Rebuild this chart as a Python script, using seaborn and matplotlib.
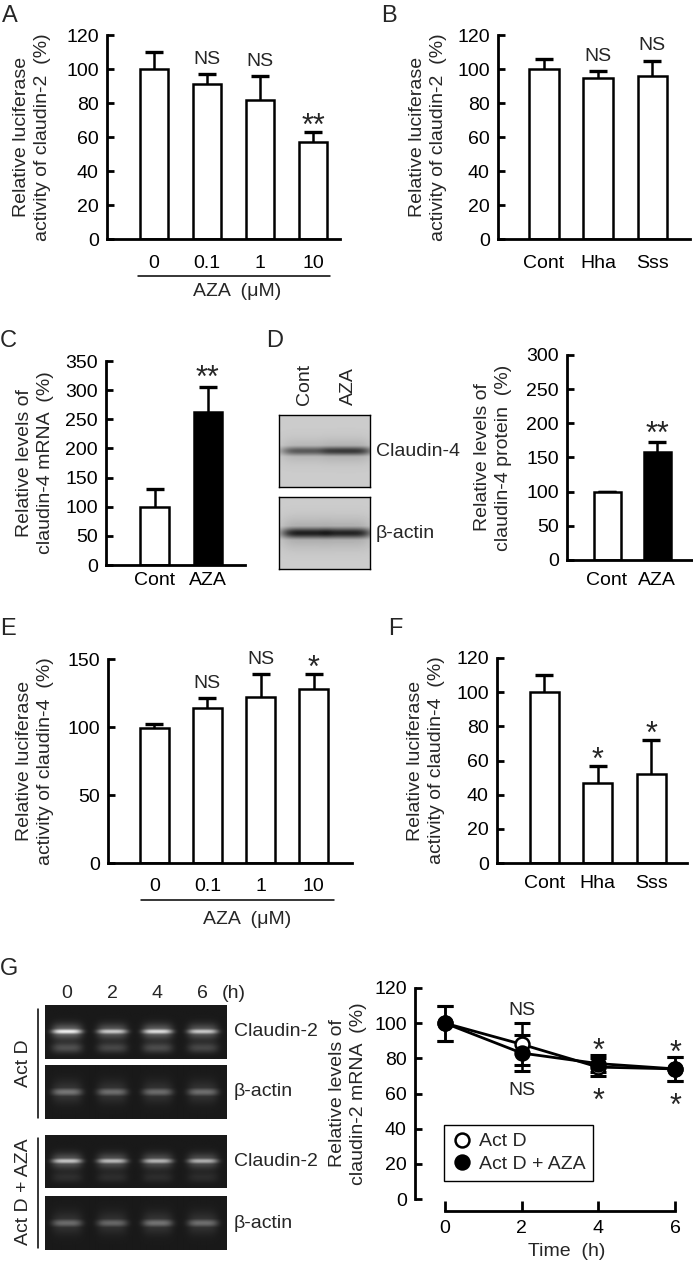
import matplotlib
matplotlib.use("Agg")
import matplotlib.pyplot as plt
from matplotlib.lines import Line2D
import numpy as np
import pandas as pd
import seaborn as sns

W, H = 693, 1264

# A: claudin-2 promoter activity vs AZA dose
aza_doses = ["0", "0.1", "1", "10"]
cld2_luc_aza = [100, 91, 82, 57]
cld2_luc_aza_sd = [10, 6, 14, 6]
cld2_luc_aza_sig = ["", "NS", "NS", "**"]

# B: claudin-2 promoter activity, methylases
mtase = ["Cont", "Hha", "Sss"]
cld2_luc_mtase = [100, 95, 96]
cld2_luc_mtase_sd = [6, 4, 9]
cld2_luc_mtase_sig = ["", "NS", "NS"]

# C: claudin-4 mRNA
treat = ["Cont", "AZA"]
cld4_mrna = [100, 262]
cld4_mrna_sd = [30, 44]
cld4_mrna_sig = ["", "**"]

# D: claudin-4 protein + blot band darkness
cld4_protein = [100, 158]
cld4_protein_sd = [0, 15]
cld4_protein_sig = ["", "**"]
blot_claudin4 = [0.45, 0.58]
blot_actin = [0.68, 0.66]

# E: claudin-4 promoter activity vs AZA dose
cld4_luc_aza = [99, 114, 122, 128]
cld4_luc_aza_sd = [3, 7, 17, 11]
cld4_luc_aza_sig = ["", "NS", "NS", "*"]

# F: claudin-4 promoter activity, methylases
cld4_luc_mtase = [100, 47, 52]
cld4_luc_mtase_sd = [10, 10, 20]
cld4_luc_mtase_sig = ["", "*", "*"]

# G: claudin-2 mRNA decay after Act D
time_h = [0, 2, 4, 6]
actd = [100, 88, 75, 74]
actd_sd = [10, 12, 5, 7]
actd_aza = [100, 83, 77, 74]
actd_aza_sd = [10, 10, 5, 7]
actd_sig = ["", "NS", "*", "*"]
actd_aza_sig = ["", "NS", "*", "*"]
gel_lanes = ["0", "2", "4", "6"]
gel_cld2_actd = [0.85, 0.7, 0.78, 0.7]
gel_actin_actd = [0.36, 0.33, 0.32, 0.33]
gel_cld2_aza = [0.68, 0.64, 0.62, 0.6]
gel_actin_aza = [0.32, 0.3, 0.35, 0.33]

sns.set_theme(style="ticks")
plt.rcParams["font.family"] = ["Liberation Sans", "DejaVu Sans"]
plt.rcParams["axes.linewidth"] = 2.0

FS = 14
STAR_FS = 22


def px_axes(fig, left, top, right, bottom):
    return fig.add_axes([left / W, 1 - bottom / H, (right - left) / W, (bottom - top) / H])


def fig_text(fig, x, y, s, **kw):
    kw.setdefault("fontsize", FS)
    fig.text(x / W, 1 - y / H, s, **kw)


def sig_text(ax, x, y, s, above=True, gap_px=10):
    if not s:
        return
    fs = FS if s == "NS" else STAR_FS
    em_px = fs * 100 / 72
    if above:
        base = 0.0 if s == "NS" else 0.42
        off = (gap_px - base * em_px) * 0.72
        ax.annotate(s, (x, y), xytext=(0, off), textcoords="offset points",
                    ha="center", va="baseline", fontsize=fs)
    else:
        ax.annotate(s, (x, y), xytext=(0, -gap_px * 0.72), textcoords="offset points",
                    ha="center", va="top", fontsize=fs)


def style_axes(ax, ylabel, label_x, xpad, ylim, ystep):
    sns.despine(ax=ax)
    ax.set_ylim(*ylim)
    ax.set_yticks(np.arange(ylim[0], ylim[1] + 1, ystep))
    ax.tick_params(axis="y", direction="in", length=5, width=2, pad=6, labelsize=FS, colors="black")
    ax.tick_params(axis="x", length=0, pad=xpad, labelsize=FS, colors="black")
    ax.set_xlabel("")
    ax.set_ylabel(ylabel, fontsize=FS, linespacing=1.25, multialignment="center")
    ax.yaxis.label.set_va("center")
    ax.yaxis.set_label_coords(label_x, 0.5)
    for sp in ax.spines.values():
        sp.set_color("black")
        sp.set_linewidth(2)


def bar_panel(fig, rect, cats, vals, sds, sigs, xlim, ylim, ystep, ylabel, label_px,
              xpad, colors=None, gap_px=10):
    ax = px_axes(fig, *rect)
    df = pd.DataFrame({"cat": cats, "val": vals})
    palette = colors if colors else ["white"] * len(cats)
    sns.barplot(data=df, x="cat", y="val", hue="cat", palette=palette, legend=False,
                saturation=1, edgecolor="black", linewidth=1.8, width=0.54,
                errorbar=None, ax=ax, zorder=2)
    ax.errorbar(range(len(cats)), vals, yerr=sds, fmt="none", ecolor="black",
                elinewidth=1.8, capsize=6.5, capthick=2.4, zorder=1)
    ax.set_xlim(*xlim)
    style_axes(ax, ylabel, (label_px - rect[0]) / (rect[2] - rect[0]), xpad, ylim, ystep)
    for i, (v, e, s) in enumerate(zip(vals, sds, sigs)):
        sig_text(ax, i, v + e, s, True, gap_px)
    return ax


def gel_image(w, h, lane_x, band_y, inten, bg, dark=False, band_w=13, sig=2.6, glow=0.0,
              second=0.0):
    xx, yy = np.meshgrid(np.arange(w) + 0.5, np.arange(h) + 0.5)
    img = np.full((h, w), bg, dtype=float)
    for cx, a in zip(lane_x, inten):
        prof_x = np.exp(-((xx - cx) / band_w) ** 4)
        core = np.exp(-((yy - band_y) / sig) ** 2)
        halo = glow * np.exp(-((yy - band_y) / (sig * 2.6)) ** 2)
        low = second * np.exp(-((yy - band_y - 16) / 5.0) ** 2)
        band = a * prof_x * np.maximum(core, halo) + a * prof_x * low
        if dark:
            img = img - band
        else:
            img = img + band
    return np.clip(img, 0, 1)


fig = plt.figure(figsize=(W / 100, H / 100), dpi=100)
fig.patch.set_facecolor("white")

# ---------- A ----------
bar_panel(fig, (107, 35, 340, 239), aza_doses, cld2_luc_aza, cld2_luc_aza_sd,
          cld2_luc_aza_sig, (-0.89, 3.51), (0, 120), 20,
          "Relative luciferase\nactivity of claudin-2  (%)", 32, 11.5)
fig.add_artist(Line2D([138 / W, 330 / W], [1 - 276 / H] * 2, color="black", lw=1.1))
fig_text(fig, 237, 292, "AZA  (μM)", ha="center", va="center")
fig_text(fig, 2, 5, "A", fontsize=17, ha="left", va="top")

# ---------- B ----------
bar_panel(fig, (498, 35, 690, 239), mtase, cld2_luc_mtase, cld2_luc_mtase_sd,
          cld2_luc_mtase_sig, (-0.85, 2.70), (0, 120), 20,
          "Relative luciferase\nactivity of claudin-2  (%)", 428, 11.5)
fig_text(fig, 381, 5, "B", fontsize=17, ha="left", va="top")

# ---------- C ----------
bar_panel(fig, (106, 361, 245, 565), treat, cld4_mrna, cld4_mrna_sd, cld4_mrna_sig,
          (-0.92, 1.70), (0, 350), 50, "Relative levels of\nclaudin-4 mRNA  (%)", 35, 5,
          colors=["white", "black"], gap_px=13)
fig_text(fig, 0, 330, "C", fontsize=17, ha="left", va="top")

# ---------- D ----------
fig_text(fig, 266, 330, "D", fontsize=17, ha="left", va="top")
blot_lanes = [26, 69]
for (top, bot, dens, label) in [(415, 487, blot_claudin4, "Claudin-4"),
                                (497, 569, blot_actin, "β-actin")]:
    axb = px_axes(fig, 279, top, 370, bot)
    h = bot - top
    img = gel_image(91, h, blot_lanes, h / 2, dens, 0.8, dark=True, band_w=24,
                    sig=4.5 if label == "Claudin-4" else 5.5, glow=0.22)
    axb.imshow(img, cmap="gray", vmin=0, vmax=1, aspect="auto", extent=(0, 91, h, 0),
               interpolation="bilinear")
    axb.set_xticks([])
    axb.set_yticks([])
    for sp in axb.spines.values():
        sp.set_linewidth(1.0)
        sp.set_color("black")
    fig_text(fig, 376, (top + bot) / 2, label, ha="left", va="center")
for lx, name in zip([305, 348], treat):
    fig_text(fig, lx, 405, name, rotation=90, ha="center", va="bottom")

bar_panel(fig, (567, 355, 692, 560), treat, cld4_protein, cld4_protein_sd, cld4_protein_sig,
          (-0.8, 1.7), (0, 300), 50, "Relative levels of\nclaudin-4 protein  (%)", 493, 8.5,
          colors=["white", "black"], gap_px=12)

# ---------- E ----------
bar_panel(fig, (108, 659, 352, 863), aza_doses, cld4_luc_aza, cld4_luc_aza_sd,
          cld4_luc_aza_sig, (-0.87, 3.72), (0, 150), 50,
          "Relative luciferase\nactivity of claudin-4  (%)", 35, 11)
fig.add_artist(Line2D([141 / W, 334 / W], [1 - 900 / H] * 2, color="black", lw=1.1))
fig_text(fig, 247, 920, "AZA  (μM)", ha="center", va="center")
fig_text(fig, 0, 618, "E", fontsize=17, ha="left", va="top")

# ---------- F ----------
bar_panel(fig, (497, 658, 687, 863), mtase, cld4_luc_mtase, cld4_luc_mtase_sd,
          cld4_luc_mtase_sig, (-0.88, 2.67), (0, 120), 20,
          "Relative luciferase\nactivity of claudin-4  (%)", 426, 8.5)
fig_text(fig, 388, 618, "F", fontsize=17, ha="left", va="top")

# ---------- G gels ----------
fig_text(fig, 0, 958, "G", fontsize=17, ha="left", va="top")
gel_lane_px = [22, 67, 112, 157]
gel_boxes = [(1005, 1059, gel_cld2_actd, "Claudin-2", 0.25),
             (1065, 1119, gel_actin_actd, "β-actin", 0.0),
             (1135, 1188, gel_cld2_aza, "Claudin-2", 0.12),
             (1196, 1250, gel_actin_aza, "β-actin", 0.0)]
for top, bot, inten, label, second in gel_boxes:
    axg = px_axes(fig, 45, top, 226, bot)
    h = bot - top
    if label == "Claudin-2":
        img = gel_image(181, h, gel_lane_px, h / 2, inten, 0.1, band_w=15, sig=2.8,
                        glow=0.4, second=second)
    else:
        img = gel_image(181, h, gel_lane_px, h / 2, inten, 0.1, band_w=15, sig=4.2,
                        glow=0.35)
    axg.imshow(img, cmap="gray", vmin=0, vmax=1, aspect="auto", extent=(0, 181, h, 0),
               interpolation="bilinear")
    axg.set_xticks([])
    axg.set_yticks([])
    for sp in axg.spines.values():
        sp.set_visible(False)
    fig_text(fig, 234, (top + bot) / 2, label, ha="left", va="center")
for lx, lane in zip(gel_lane_px, gel_lanes):
    fig_text(fig, 45 + lx, 993, lane, ha="center", va="center")
fig_text(fig, 222, 993, "(h)", ha="left", va="center")
fig.add_artist(Line2D([38 / W] * 2, [1 - 1009 / H, 1 - 1118 / H], color="black", lw=1.1))
fig.add_artist(Line2D([38 / W] * 2, [1 - 1138 / H, 1 - 1248 / H], color="black", lw=1.1))
fig_text(fig, 24, 1063, "Act D", rotation=90, ha="center", va="center")
fig_text(fig, 24, 1192, "Act D + AZA", rotation=90, ha="center", va="center")

# ---------- G chart ----------
axG = px_axes(fig, 415, 988, 690, 1199)
axG.errorbar(time_h, actd, yerr=actd_sd, fmt="none", ecolor="black", elinewidth=1.8,
             capsize=6, capthick=2.2, zorder=1)
axG.errorbar(time_h, actd_aza, yerr=actd_aza_sd, fmt="none", ecolor="black", elinewidth=1.8,
             capsize=6, capthick=2.2, zorder=1)
sns.lineplot(x=time_h, y=actd, ax=axG, color="black", lw=2, marker="o", markersize=10,
             markerfacecolor="white", markeredgecolor="black", markeredgewidth=1.8, zorder=3)
sns.lineplot(x=time_h, y=actd_aza, ax=axG, color="black", lw=2, marker="o", markersize=10,
             markerfacecolor="black", markeredgecolor="black", markeredgewidth=1.8, zorder=4)
axG.set_xlim(-0.78, 6.39)
axG.set_xticks(time_h)
style_axes(axG, "Relative levels of\nclaudin-2 mRNA  (%)", (348 - 415) / 275, 6.5, (0, 120), 20)
axG.tick_params(axis="x", direction="in", length=7, width=2)
axG.spines["bottom"].set_position(("outward", 8.5))
axG.spines["bottom"].set_bounds(0, 6)
axG.spines["left"].set_bounds(0, 120)
for i, t in enumerate(time_h):
    up = max(actd[i] + actd_sd[i], actd_aza[i] + actd_aza_sd[i])
    lo = min(actd[i] - actd_sd[i], actd_aza[i] - actd_aza_sd[i])
    sig_text(axG, t, up, actd_sig[i], True, 8)
    sig_text(axG, t, lo, actd_aza_sig[i], False, 11)
handles = [Line2D([], [], marker="o", ls="none", ms=10, mfc="white", mec="black", mew=1.8,
                  label="Act D"),
           Line2D([], [], marker="o", ls="none", ms=10, mfc="black", mec="black", mew=1.8,
                  label="Act D + AZA")]
leg = axG.legend(handles=handles, loc="upper left", bbox_to_anchor=(0.105, 0.351),
                 borderaxespad=0, fontsize=FS, frameon=True, fancybox=False, framealpha=1,
                 edgecolor="black", handletextpad=0.3, borderpad=0.4, labelspacing=0.25,
                 handlelength=1.1)
leg.get_frame().set_linewidth(1.0)
fig_text(fig, 567, 1252, "Time  (h)", ha="center", va="center")

fig.savefig("out.png", dpi=100)
